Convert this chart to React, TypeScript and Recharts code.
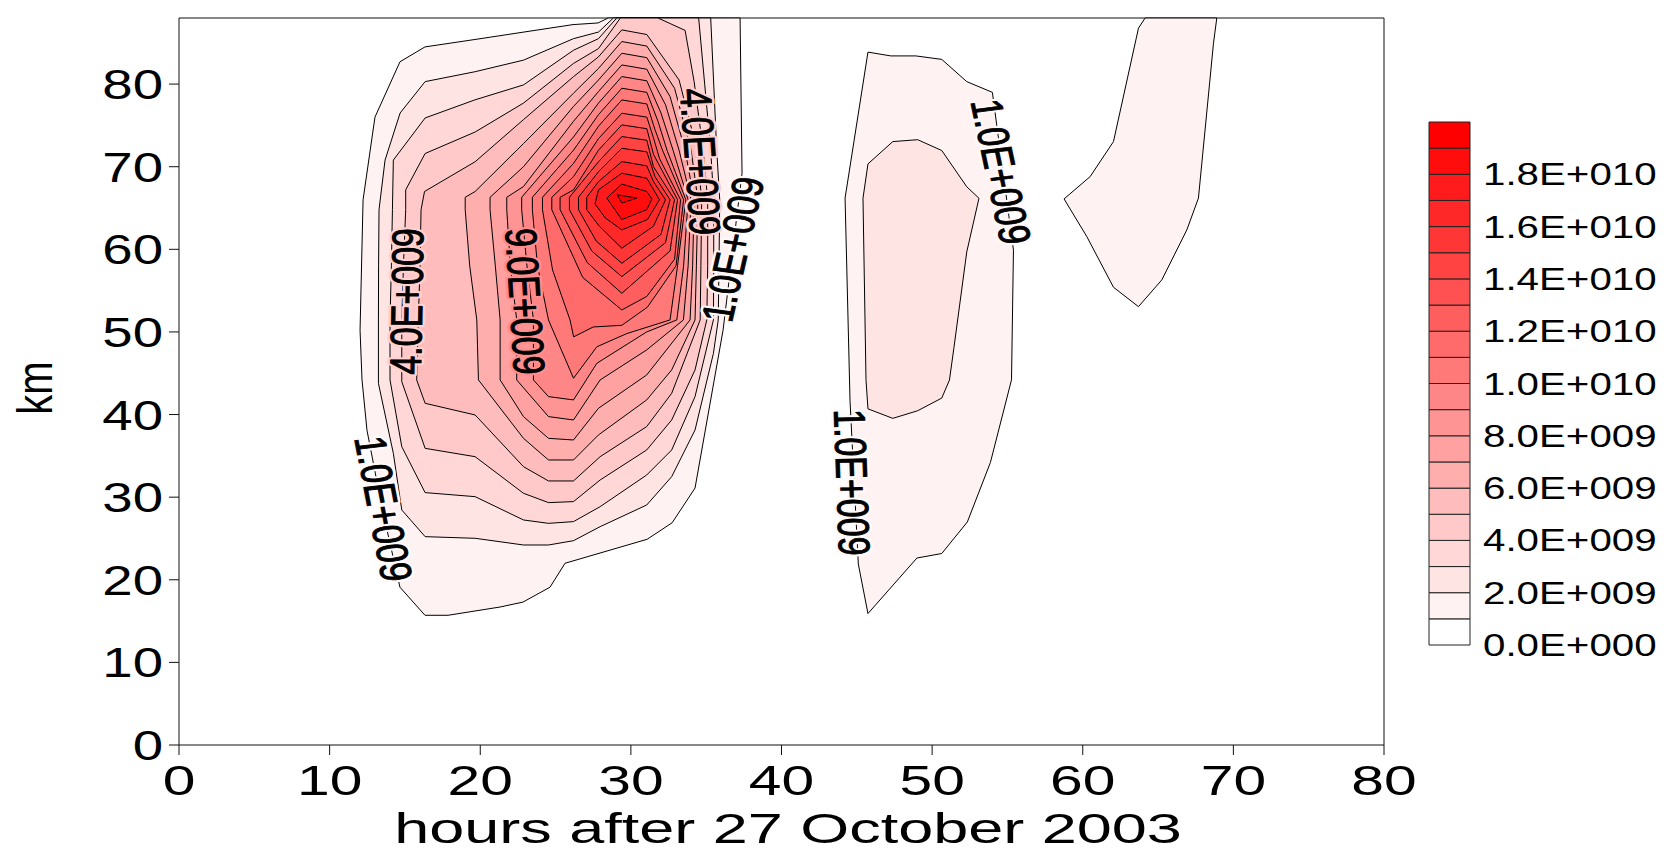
import React from "react";
import { ScatterChart, Scatter, XAxis, YAxis, BarChart, Bar } from "recharts";

const FONT = "'Liberation Sans', Arial, Helvetica, sans-serif";

const xTicks = [0, 10, 20, 30, 40, 50, 60, 70, 80];
const yTicks = [0, 10, 20, 30, 40, 50, 60, 70, 80];

// contour levels, 1E9 apart, and the fill of each band
const levels = [0, 1e9, 2e9, 3e9, 4e9, 5e9, 6e9, 7e9, 8e9, 9e9, 1e10, 1.1e10, 1.2e10, 1.3e10, 1.4e10, 1.5e10, 1.6e10, 1.7e10, 1.8e10, 1.9e10];
const levelMax = 2e10;
const bandColors = [
  "#ffffff", "#fff2f2", "#ffe4e4", "#ffd7d7", "#ffc9c9", "#ffbcbc", "#ffaeae", "#ffa1a1", "#ff9494", "#ff8686",
  "#ff7979", "#ff6b6b", "#ff5e5e", "#ff5151", "#ff4343", "#ff3636", "#ff2828", "#ff1b1b", "#ff0d0d", "#ff0000",
];
const barTicks = [0, 2e9, 4e9, 6e9, 8e9, 1e10, 1.2e10, 1.4e10, 1.6e10, 1.8e10];
const barTickLabels = ["0.0E+000", "2.0E+009", "4.0E+009", "6.0E+009", "8.0E+009", "1.0E+010", "1.2E+010", "1.4E+010", "1.6E+010", "1.8E+010"];

// contour polygons, [hours, km]
const mainL1 = [[28.49,88],[27.82,87.4],[26.16,87.2],[19.65,85.4],[16.33,84.5],[14.67,82.7],[13.01,76.0],[12.22,66.0],[12.02,50.2],[12.15,44.2],[12.48,38.1],[13.5,28.5],[14.67,19.1],[16.33,15.7],[17.86,15.7],[21.31,16.7],[22.84,17.3],[24.63,19.1],[25.63,22.0],[31.08,24.9],[32.74,26.9],[34.26,31.1],[36.12,50.2],[37.38,69.2],[37.25,88]];
const mainL2 = [[13.28,64.8],[13.68,70.8],[14.68,76.5],[16.34,80.3],[19.66,81.5],[22.87,82.9],[26.19,85.5],[27.85,86.3],[28.84,88],[35.3,88],[35.5,80.0],[35.7,72.0],[35.9,66.0],[35.85,58.0],[35.8,51.45],[35.48,47.4],[34.26,38.13],[32.71,32.48],[31.05,29.05],[27.96,26.43],[26.19,24.73],[24.53,24.21],[22.87,24.21],[19.66,25.02],[16.34,25.22],[14.79,28.45],[14.23,35.31],[13.24,43.78],[13.24,51.45],[13.25,58.0]];
const mainL3 = [[14.17,64.8],[14.23,70.8],[16.34,75.9],[19.66,78.1],[22.87,79.9],[26.19,84.1],[27.85,85.5],[29.06,88],[34.5,88],[34.9,80.0],[35.3,72.0],[35.5,66.0],[35.5,58.0],[35.48,51.45],[34.26,42.17],[32.71,35.71],[31.05,32.68],[27.96,28.85],[26.19,27.04],[24.53,26.83],[22.87,27.24],[19.66,30.06],[16.34,30.55],[14.79,36.11],[14.01,44.19],[14.01,51.45],[14.1,58.0]];
const mainL4 = [[15.05,64.8],[15.05,67.2],[16.34,71.6],[19.66,74.2],[22.87,77.7],[26.19,82.5],[27.85,84.3],[29.3,88],[31.8,88],[33.6,86.5],[34.2,80.3],[34.8,72.0],[35.1,66.0],[35.1,58.0],[35.04,51.45],[34.26,45.4],[32.71,39.34],[31.05,35.71],[27.96,32.08],[26.19,29.46],[24.53,29.34],[22.87,30.47],[19.66,34.9],[16.34,35.91],[14.79,43.98],[14.79,51.45],[14.9,58.0]];
const mainL5 = [[16.07,64.8],[16.3,67.0],[19.66,70.6],[22.87,75.7],[26.19,80.9],[27.85,83.3],[29.4,86.56],[31.06,86.0],[33.2,80.5],[34.4,72.0],[34.7,66.0],[34.65,58.0],[34.6,51.45],[32.71,42.57],[31.05,38.54],[27.96,34.9],[26.19,31.96],[24.53,31.96],[22.87,33.69],[19.66,39.95],[16.34,41.36],[15.78,44.19],[15.89,51.45],[16.0,58.0]];
const mainL6 = [[19.0,64.8],[19.0,66.3],[19.66,67.0],[22.87,72.8],[26.19,78.9],[27.85,81.9],[29.4,85.15],[31.06,84.6],[32.9,79.5],[34.0,72.0],[34.45,66.0],[34.35,58.0],[34.26,51.45],[32.71,45.4],[31.05,41.77],[27.85,37.53],[26.19,34.5],[24.53,34.5],[22.87,37.12],[19.88,44.19],[19.77,51.45],[19.3,58.0]];
const mainL7 = [[20.65,64.8],[20.65,66.3],[22.87,70.0],[26.19,77.3],[27.85,80.5],[29.4,83.73],[31.06,83.2],[32.6,78.5],[33.6,72.0],[34.2,66.0],[34.1,58.0],[33.93,51.45],[31.05,44.79],[27.85,40.76],[26.19,36.92],[24.53,37.12],[22.87,39.75],[21.32,44.19],[21.32,51.45],[21.0,58.0]];
const mainL8 = [[21.76,64.8],[21.76,66.3],[22.87,67.6],[26.19,75.5],[27.85,79.1],[29.4,82.32],[31.06,81.8],[32.3,77.5],[33.2,72.0],[34.0,66.0],[33.8,58.0],[33.49,51.45],[31.05,47.82],[27.96,44.19],[26.19,39.34],[24.53,39.75],[22.42,44.19],[22.42,51.45],[22.0,58.0]];
const mainL9 = [[22.75,64.8],[22.75,66.3],[26.19,73.6],[27.85,77.7],[29.4,80.91],[31.06,80.4],[32.0,76.5],[32.8,72.0],[33.8,66.0],[33.5,58.0],[33.05,51.45],[31.05,50.0],[27.74,46.2],[26.19,41.77],[24.53,42.17],[23.53,44.19],[23.53,51.45],[23.1,58.0]];
const mainL10 = [[23.46,64.8],[23.46,66.3],[26.19,72.0],[27.85,76.3],[29.4,79.5],[31.06,79.0],[31.8,75.5],[32.4,72.0],[33.65,66.0],[33.1,58.0],[32.6,51.45],[29.73,49.8],[27.74,48.2],[26.19,44.39],[24.53,51.45],[23.8,58.0]];
const mainL11 = [[24.13,64.8],[24.13,66.3],[26.19,70.4],[27.85,74.9],[29.4,78.08],[31.06,77.6],[31.6,74.5],[32.1,72.0],[33.5,66.0],[33.0,58.0],[31.1,53.0],[29.4,50.8],[27.5,50.6],[26.2,49.4],[25.96,51.45],[24.8,57.5]];
const mainL12 = [[24.75,64.8],[24.75,66.3],[26.19,68.8],[27.85,73.4],[29.4,76.47],[31.06,76.0],[31.5,73.5],[31.9,71.0],[33.3,66.0],[32.9,58.8],[31.06,54.3],[29.4,52.66],[26.8,56.6]];
const mainL13 = [[25.3,64.8],[25.3,66.3],[26.19,67.2],[27.85,72.0],[29.4,75.06],[31.06,74.6],[31.5,71.5],[33.1,66.0],[32.6,59.8],[29.4,54.68],[27.1,58.4]];
const mainL14 = [[25.92,64.8],[25.92,66.3],[27.85,70.6],[29.4,73.65],[31.06,73.2],[31.5,70.0],[32.9,66.0],[32.3,60.8],[29.4,56.7],[27.4,59.8]];
const mainL15 = [[26.52,64.8],[26.52,66.3],[27.85,69.4],[29.4,72.23],[31.06,71.8],[31.6,68.8],[32.6,66.0],[32.0,61.8],[29.4,58.31],[27.7,61.0]];
const mainL16 = [[27.07,64.8],[27.07,66.3],[27.85,68.2],[29.4,70.62],[31.06,70.1],[31.5,68.2],[32.3,66.0],[31.5,62.8],[29.4,60.13],[27.9,62.8]];
const mainL17 = [[27.62,65.5],[27.85,67.2],[29.4,69.21],[31.06,68.6],[31.9,66.0],[31.1,63.6],[29.4,62.35],[28.3,63.8]];
const mainL18 = [[28.4,66.2],[29.4,67.9],[31.06,67.0],[31.4,66.1],[31.06,64.8],[29.4,63.6]];
const mainL19 = [[29.1,66.6],[30.4,66.2],[29.4,65.6]];
const eastL1 = [[45.74,83.87],[47.26,83.41],[48.92,83.41],[50.64,82.99],[52.3,80.3],[54.0,79.0],[55.4,59.9],[55.27,44.2],[53.87,34.2],[52.34,27.0],[50.64,23.18],[48.99,22.63],[45.74,15.91],[45.1,21.9],[44.55,41.6],[44.22,66.2]];
const eastL2 = [[45.74,70.34],[47.39,73.04],[49.04,73.27],[50.64,71.96],[52.3,67.57],[53.11,66.18],[52.3,59.69],[51.45,48.11],[51.15,44.17],[50.64,41.99],[49.04,40.46],[47.39,39.54],[45.74,40.69],[45.61,44.17],[45.41,66.18]];
const farL1 = [[64.14,88],[63.7,86.77],[62.04,73.04],[60.49,68.8],[58.76,66.1],[60.27,61.54],[62.04,55.41],[63.7,53.06],[65.25,56.3],[66.91,62.35],[67.68,66.19],[68.68,84.95],[68.9,88]];

// contour labels
const labelText = ["4.0E+009", "9.0E+009", "1.0E+009", "4.0E+009", "1.0E+009", "1.0E+009", "1.0E+009"];
const labelX = [15.1, 23.0, 13.6, 34.65, 36.75, 54.6, 44.7];
const labelY = [53.7, 53.7, 28.6, 70.6, 60.0, 69.4, 31.8];
const labelAngle = [-89.2, 87.3, 81.5, 86.9, -80, 80.7, 88.5];
const labelHalo = ["#ffd0d0", "#ff8d8d", "#fffafa", "#ffd0d0", "#fff8f8", "#fff8f8", "#fffafa"];

const contours = [
  { pts: mainL1, band: 1 }, { pts: eastL1, band: 1 }, { pts: farL1, band: 1 },
  { pts: mainL2, band: 2 }, { pts: eastL2, band: 2 },
  { pts: mainL3, band: 3 }, { pts: mainL4, band: 4 }, { pts: mainL5, band: 5 },
  { pts: mainL6, band: 6 }, { pts: mainL7, band: 7 }, { pts: mainL8, band: 8 },
  { pts: mainL9, band: 9 }, { pts: mainL10, band: 10 }, { pts: mainL11, band: 11 },
  { pts: mainL12, band: 12 }, { pts: mainL13, band: 13 }, { pts: mainL14, band: 14 },
  { pts: mainL15, band: 15 }, { pts: mainL16, band: 16 }, { pts: mainL17, band: 17 },
  { pts: mainL18, band: 18 }, { pts: mainL19, band: 19 },
];

const labelData = labelText.map((t, i) => ({ x: labelX[i], y: labelY[i], text: t, angle: labelAngle[i], halo: labelHalo[i] }));

const barRow: any = { name: "scale" };
levels.forEach((lv, i) => {
  barRow["b" + i] = (i + 1 < levels.length ? levels[i + 1] : levelMax) - lv;
});

const toPath = (pts: { x: number; y: number }[]) =>
  pts.map((p, i) => `${i ? "L" : "M"}${p.x},${p.y}`).join("") + "Z";

const XTick = (props: any) => (
  <text transform={`translate(${props.x},${props.y + 38}) scale(1.4,1)`} textAnchor="middle" fontSize={42} fontFamily={FONT} fill="#000">
    {props.payload.value}
  </text>
);

const YTick = (props: any) => (
  <text transform={`translate(${props.x - 4},${props.y + 15}) scale(1.3,1)`} textAnchor="end" fontSize={42} fontFamily={FONT} fill="#000">
    {props.payload.value}
  </text>
);

const BarTick = (props: any) => {
  const idx = barTicks.indexOf(props.payload.value);
  return (
    <text transform={`translate(${props.x + 13},${props.y + 11}) scale(1.3,1)`} textAnchor="start" fontSize={31} fontFamily={FONT} fill="#000">
      {barTickLabels[idx]}
    </text>
  );
};

const NoTick = () => null;

const XTitle = () => (
  <text transform="translate(788,843) scale(1.5,1)" textAnchor="middle" fontSize={42} fontFamily={FONT} fill="#000">
    hours after 27 October 2003
  </text>
);

const YTitle = () => (
  <text transform="translate(35,388) scale(1.27,1) rotate(-90)" textAnchor="middle" dominantBaseline="central" fontSize={40} fontFamily={FONT} fill="#000">
    km
  </text>
);

const ContourLabel = (p: any) => {
  const d = p.payload;
  const tf = `translate(${p.cx},${p.cy}) scale(1.3,1) rotate(${d.angle})`;
  return (
    <g>
      <text transform={tf} textAnchor="middle" dominantBaseline="central" fontSize={34} fontFamily={FONT}
        fill={d.halo} stroke={d.halo} strokeWidth={5} strokeLinejoin="round">
        {d.text}
      </text>
      <text transform={tf} textAnchor="middle" dominantBaseline="central" fontSize={34} fontFamily={FONT}
        fill="#000" stroke="#000" strokeWidth={0.8}>
        {d.text}
      </text>
    </g>
  );
};

export default function App() {
  return (
    <div style={{ position: "absolute", left: 0, top: 0, width: 1669, height: 855, background: "#fff" }}>
      <div style={{ position: "absolute", left: 0, top: 0 }}>
        <ScatterChart width={1669} height={855} margin={{ top: 0, right: 0, bottom: 0, left: 0 }}>
          <XAxis xAxisId="b" type="number" dataKey="x" domain={[0, 80]} ticks={xTicks} interval={0} height={110}
            tickSize={10} stroke="#111" tick={<XTick />} label={<XTitle />} />
          <XAxis xAxisId="t" orientation="top" type="number" domain={[0, 80]} ticks={xTicks} interval={0} height={18}
            tickSize={10} stroke="#111" tick={<NoTick />} />
          <YAxis yAxisId="l" type="number" dataKey="y" domain={[0, 88]} ticks={yTicks} interval={0} width={179}
            tickSize={10} stroke="#111" tick={<YTick />} label={<YTitle />} />
          <YAxis yAxisId="r" orientation="right" type="number" domain={[0, 88]} ticks={yTicks} interval={0} width={285}
            tickSize={10} stroke="#111" tick={<NoTick />} />
          {contours.map((c, i) => (
            <Scatter
              key={"c" + i}
              xAxisId="b"
              yAxisId="l"
              data={c.pts.map(([x, y]) => ({ x, y }))}
              isAnimationActive={false}
              shape={() => <g />}
              line={(lp: any) => (
                <path d={toPath(lp.points)} fill={bandColors[c.band]} stroke="#000" strokeWidth={1} strokeLinejoin="round" />
              )}
            />
          ))}
          <Scatter xAxisId="b" yAxisId="l" data={labelData} isAnimationActive={false} shape={(p: any) => <ContourLabel {...p} />} />
        </ScatterChart>
      </div>
      <div style={{ position: "absolute", left: 1400, top: 0 }}>
        <BarChart width={269} height={855} data={[barRow]} margin={{ top: 122, right: 0, bottom: 210, left: 29 }} barCategoryGap={0}>
          <XAxis dataKey="name" hide height={0} />
          <YAxis orientation="right" type="number" domain={[0, levelMax]} ticks={barTicks} interval={0} width={199}
            axisLine={false} tickLine={false} tickSize={0} tickMargin={0} tick={<BarTick />} />
          {levels.map((lv, i) => (
            <Bar key={"b" + i} dataKey={"b" + i} stackId="scale" fill={bandColors[i]} stroke="#222" strokeWidth={1} isAnimationActive={false} />
          ))}
        </BarChart>
      </div>
    </div>
  );
}
